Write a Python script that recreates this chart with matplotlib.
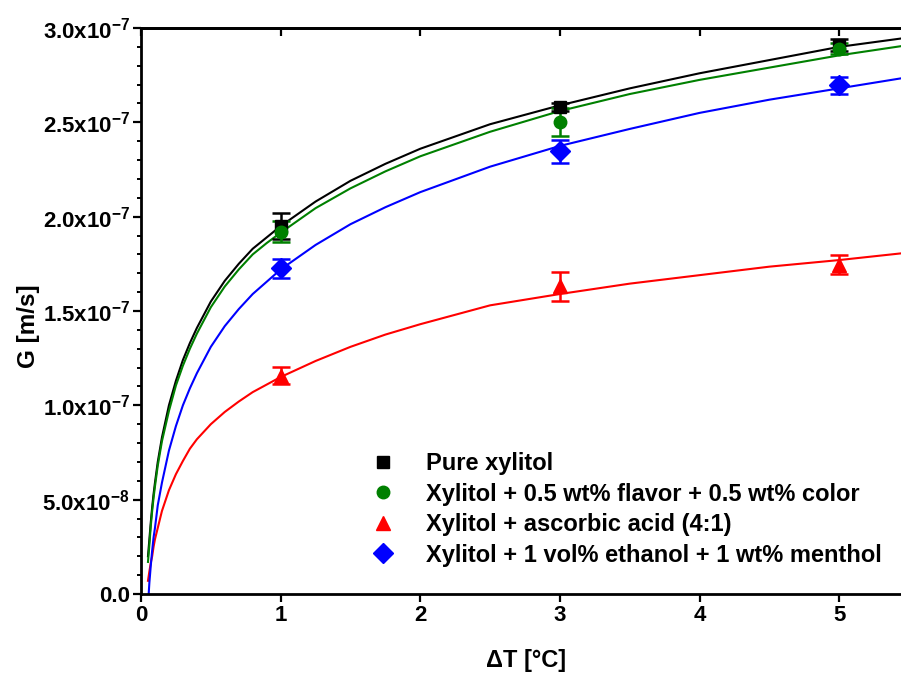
import math
import matplotlib
matplotlib.use("Agg")
import matplotlib.pyplot as plt
from matplotlib.lines import Line2D
from matplotlib.ticker import FixedLocator, FuncFormatter, MultipleLocator

plt.rcParams['font.family'] = ['Liberation Sans', 'DejaVu Sans']
plt.rcParams['font.weight'] = 'bold'
plt.rcParams['mathtext.fontset'] = 'custom'
plt.rcParams['mathtext.bf'] = 'Liberation Sans:bold'
plt.rcParams['mathtext.rm'] = 'Liberation Sans:bold'

# ---------------- data ----------------
labels = ["Pure xylitol",
          "Xylitol + 0.5 wt% flavor + 0.5 wt% color",
          "Xylitol + ascorbic acid (4:1)",
          "Xylitol + 1 vol% ethanol + 1 wt% menthol"]
colors = ["#000000", "#008000", "#FF0000", "#0000FF"]
markers = ["s", "o", "^", "D"]

dT = [1, 3, 5]
G_pure = [1.95e-7, 2.58e-7, 2.91e-7]
E_pure = [0.07e-7, 0.02e-7, 0.03e-7]
G_flav = [1.92e-7, 2.50e-7, 2.89e-7]
E_flav = [0.055e-7, 0.075e-7, 0.03e-7]
G_asc = [1.157e-7, 1.63e-7, 1.745e-7]
E_asc = [0.045e-7, 0.075e-7, 0.05e-7]
G_eth = [1.727e-7, 2.347e-7, 2.696e-7]
E_eth = [0.05e-7, 0.06e-7, 0.046e-7]

# fitted curves (values in 1e-7 m/s)
fit_x = [0.05, 0.06, 0.07, 0.08, 0.09, 0.1, 0.12, 0.15, 0.2, 0.25, 0.3, 0.35,
         0.4, 0.5, 0.6, 0.7, 0.8, 0.9, 1.0, 1.25, 1.5, 1.75, 2.0, 2.5, 3.0,
         3.5, 4.0, 4.5, 5.0, 5.5]
fit_pure = [0.20, 0.29, 0.38, 0.46, 0.53, 0.59, 0.70, 0.83, 1.00, 1.13, 1.24,
            1.33, 1.41, 1.55, 1.66, 1.75, 1.83, 1.89, 1.95, 2.08, 2.19, 2.28,
            2.36, 2.49, 2.59, 2.68, 2.76, 2.83, 2.90, 2.95]
fit_flav = [0.17, 0.26, 0.36, 0.44, 0.51, 0.57, 0.68, 0.81, 0.97, 1.105, 1.21,
            1.30, 1.38, 1.52, 1.63, 1.72, 1.80, 1.86, 1.915, 2.045, 2.15, 2.24,
            2.32, 2.45, 2.56, 2.65, 2.725, 2.79, 2.855, 2.91]
fit_asc = [0.07, 0.12, 0.165, 0.20, 0.25, 0.29, 0.35, 0.44, 0.55, 0.635, 0.705,
           0.77, 0.82, 0.90, 0.965, 1.02, 1.07, 1.11, 1.15, 1.235, 1.31, 1.375,
           1.43, 1.53, 1.59, 1.645, 1.69, 1.735, 1.77, 1.81]
fit_eth_x = [0.055, 0.06, 0.07, 0.08, 0.09, 0.1, 0.12, 0.15, 0.2, 0.25, 0.3,
             0.35, 0.4, 0.5, 0.6, 0.7, 0.8, 0.9, 1.0, 1.25, 1.5, 1.75, 2.0,
             2.5, 3.0, 3.5, 4.0, 4.5, 5.0, 5.5]
fit_eth = [0.0, 0.06, 0.15, 0.23, 0.30, 0.35, 0.47, 0.59, 0.76, 0.89, 1.00,
           1.09, 1.17, 1.31, 1.42, 1.51, 1.59, 1.655, 1.72, 1.85, 1.96, 2.05,
           2.13, 2.265, 2.375, 2.465, 2.55, 2.62, 2.68, 2.74]

x_ticks = [0, 1, 2, 3, 4, 5]
y_ticks = [0.0, 0.5e-7, 1.0e-7, 1.5e-7, 2.0e-7, 2.5e-7, 3.0e-7]

# ---------------- figure ----------------
fig = plt.figure(figsize=(9.01, 6.74), dpi=100)
ax = fig.add_axes([141 / 901, 80 / 674, 768 / 901, 566 / 674])

series = [(G_pure, E_pure, fit_x, fit_pure),
          (G_flav, E_flav, fit_x, fit_flav),
          (G_asc, E_asc, fit_x, fit_asc),
          (G_eth, E_eth, fit_eth_x, fit_eth)]

for (g, e, fx, fy), c, m in zip(series, colors, markers):
    ax.plot(fx, [v * 1e-7 for v in fy], color=c, lw=1.5, zorder=2)
for (g, e, fx, fy), c, m in zip(series, colors, markers):
    ms = 9 if m in ("s", "o") else 10
    ax.errorbar(dT, g, yerr=e, fmt=m, color=c, ms=ms, elinewidth=1.8,
                capsize=6.5, capthick=1.8, zorder=3)

ax.set_xlim(0, 5.5)
ax.set_ylim(0, 3.0e-7)

def yfmt(v, pos):
    if abs(v) < 1e-12:
        return "0.0"
    e = int(math.floor(math.log10(abs(v)) + 1e-9))
    mant = v / 10 ** e
    return "%.1fx10$^{\\mathbf{%d}}$" % (mant, e)

ax.xaxis.set_major_locator(FixedLocator(x_ticks))
ax.yaxis.set_major_locator(FixedLocator(y_ticks))
ax.yaxis.set_minor_locator(MultipleLocator(1e-8))
ax.yaxis.set_major_formatter(FuncFormatter(yfmt))
ax.xaxis.set_major_formatter(FuncFormatter(lambda v, p: "%d" % v))

for s in ax.spines.values():
    s.set_linewidth(2.0)

ax.tick_params(axis='both', which='major', direction='out', length=5.5,
               width=1.6, labelsize=16, pad=2.5)
ax.tick_params(axis='y', which='minor', direction='out', length=3, width=1.4)
ax.tick_params(axis='x', which='minor', bottom=False)

secx = ax.secondary_xaxis('top')
secx.set_xticks(x_ticks)
secx.tick_params(direction='in', length=6, width=1.6, labeltop=False)
secy = ax.secondary_yaxis('right')
secy.set_yticks(y_ticks)
secy.tick_params(direction='in', length=6, width=1.6, labelright=False)
for sa in (secx, secy):
    for s in sa.spines.values():
        s.set_linewidth(2.0)

ax.set_xlabel("\u0394T [\u00b0C]", fontsize=17, fontweight='bold')
ax.xaxis.set_label_coords(0.502, -0.097)
ax.set_ylabel("G [m/s]", fontsize=17.5, fontweight='bold')
ax.yaxis.set_label_coords(-0.131, 0.473)

handles = [Line2D([], [], ls='none', marker=m, color=c,
                  ms=(9 if m in ("s", "o") else 10))
           for m, c in zip(markers, colors)]
ax.legend(handles, labels, loc='upper left', frameon=False,
          bbox_to_anchor=(365 / 901, (674 - 452) / 674),
          bbox_transform=fig.transFigure, borderpad=0, borderaxespad=0,
          handletextpad=1.1, labelspacing=0.32, handlelength=1.5,
          prop={'size': 17, 'weight': 'bold'})

fig.savefig("out.png", dpi=100)
